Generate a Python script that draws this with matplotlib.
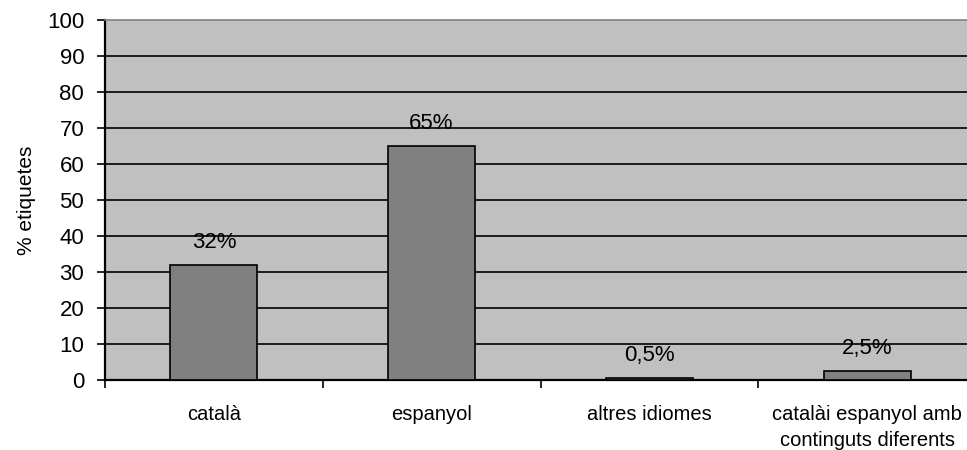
import matplotlib.pyplot as plt

plt.rcParams['font.family'] = ['Liberation Sans', 'DejaVu Sans']

# Data
categories = ['català', 'espanyol', 'altres idiomes', 'catalài espanyol amb\ncontinguts diferents']
values = [32, 65, 0.5, 2.5]
value_labels = ['32%', '65%', '0,5%', '2,5%']

fig = plt.figure(figsize=(9.67, 4.5), dpi=100)
ax = fig.add_axes([105 / 967, 70 / 450, 871 / 967, 360 / 450])
ax.set_facecolor('#c0c0c0')

x = range(len(categories))
ax.bar(x, values, width=0.4, color='#808080', edgecolor='black', linewidth=1.2, zorder=3)

for xi, v, lab in zip(x, values, value_labels):
    ax.text(xi, v + 6.3, lab, ha='center', va='center', fontsize=16, zorder=4)

# gridlines
for g in range(10, 100, 10):
    ax.axhline(g, color='black', linewidth=1.2, zorder=1)

ax.set_ylim(0, 100)
ax.set_xlim(-0.5, 3.5)
ax.set_yticks(range(0, 101, 10))
ax.tick_params(axis='y', labelsize=16, direction='out', length=6, width=1.2, pad=9)

ax.set_xticks(list(x))
ax.set_xticklabels(categories, fontsize=14.5, linespacing=1.45)
ax.tick_params(axis='x', which='major', length=0, pad=18)
ax.set_xticks([-0.5, 0.5, 1.5, 2.5, 3.5], minor=True)
ax.tick_params(axis='x', which='minor', direction='out', length=6, width=1.2)

ax.set_ylabel('% etiquetes', fontsize=15, labelpad=8)

ax.spines['left'].set_linewidth(1.6)
ax.spines['bottom'].set_linewidth(1.6)
ax.spines['top'].set_color('#808080')
ax.spines['top'].set_linewidth(1.2)
ax.spines['right'].set_visible(False)

plt.savefig('out.png', dpi=100)
